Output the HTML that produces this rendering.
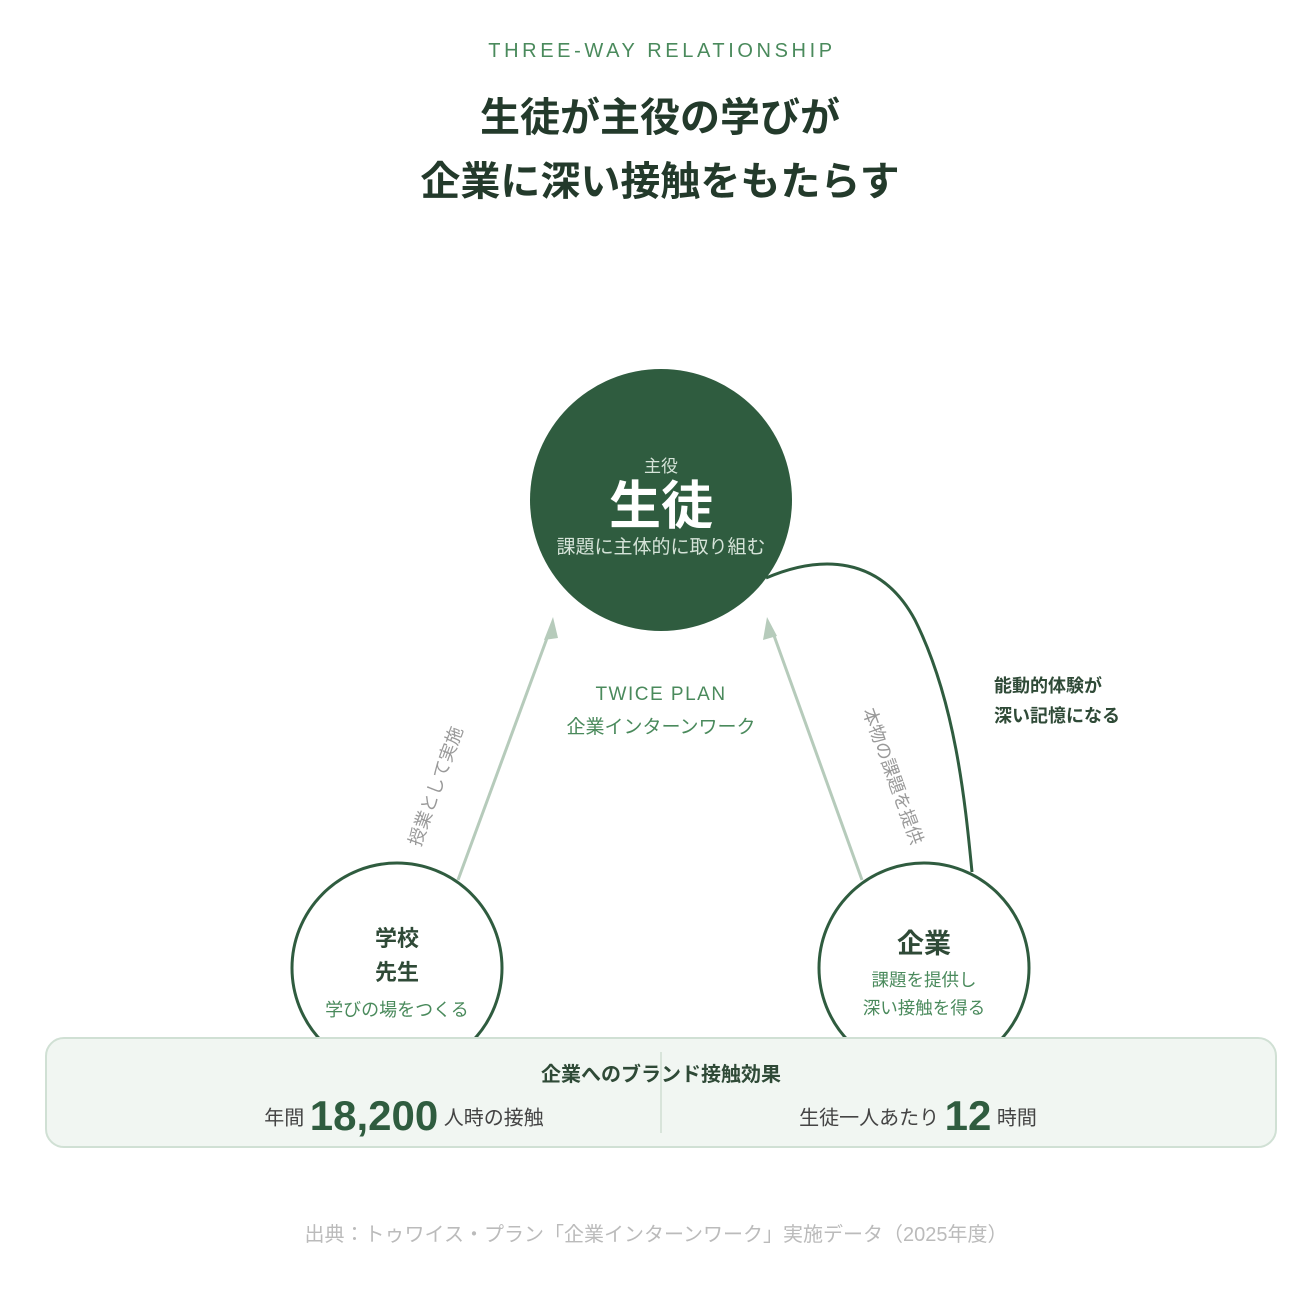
<!DOCTYPE html>
<html><head><meta charset="utf-8"><style>
html,body{margin:0;padding:0;background:#fff}
body{width:1306px;height:1308px;position:relative;overflow:hidden;font-family:"Liberation Sans","Noto Sans CJK JP",sans-serif}
.t{position:absolute;white-space:nowrap;text-align:center}
</style></head><body>
<div class="t" style="left:0;width:1324px;top:40px;font-size:20px;letter-spacing:3.6px;color:#4a8a5c">THREE-WAY RELATIONSHIP</div>
<div class="t" style="left:0;width:1320px;top:86px;font-size:40px;font-weight:bold;color:#233a2b;line-height:64px">生徒が主役の学びが<br>企業に深い接触をもたらす</div>

<svg width="1306" height="1308" style="position:absolute;left:0;top:0">
<circle cx="661" cy="500" r="131" fill="#2f5c3f"/>
<line x1="458" y1="880" x2="550" y2="630" stroke="#b6cbbb" stroke-width="3"/>
<polygon points="553,617 544,640 558,638" fill="#b6cbbb"/>
<line x1="862" y1="880" x2="772" y2="630" stroke="#b6cbbb" stroke-width="3"/>
<polygon points="767,617 763,640 777,636" fill="#b6cbbb"/>
<path d="M766,578 C820,555 880,555 915,620 C955,700 965,800 972,872" fill="none" stroke="#2f5c3f" stroke-width="3"/>
<circle cx="397" cy="968" r="105" fill="#fff" stroke="#2f5c3f" stroke-width="3"/>
<circle cx="924" cy="968" r="105" fill="#fff" stroke="#2f5c3f" stroke-width="3"/>
<rect x="46" y="1038" width="1230" height="109" rx="18" fill="#f1f6f2" stroke="#d0e0d4" stroke-width="2"/>
<line x1="661" y1="1052" x2="661" y2="1133" stroke="#cfded2" stroke-width="1.5"/>
</svg>

<div class="t" style="left:561px;width:200px;top:452px;font-size:17px;color:#d5e3d8">主役</div>
<div class="t" style="left:561px;width:200px;top:464px;font-size:52px;font-weight:bold;color:#fff">生徒</div>
<div class="t" style="left:521px;width:280px;top:532px;font-size:19px;color:#d5e3d8">課題に主体的に取り組む</div>

<div class="t" style="left:561px;width:200px;top:684px;font-size:19px;letter-spacing:1.5px;color:#4a8a5c">TWICE PLAN</div>
<div class="t" style="left:521px;width:280px;top:712px;font-size:19px;color:#4a8a5c">企業インターンワーク</div>

<div class="t" style="left:365px;width:140px;top:773px;font-size:18px;color:#999;transform:rotate(-70deg)">授業として実施</div>
<div class="t" style="left:823px;width:140px;top:761px;font-size:18px;color:#999;transform:rotate(70deg)">本物の課題を提供</div>

<div class="t" style="left:994px;top:671px;font-size:18px;font-weight:bold;color:#2f4a37;text-align:left;line-height:30px">能動的体験が<br>深い記憶になる</div>

<div class="t" style="left:297px;width:200px;top:922px;font-size:22px;font-weight:bold;color:#2f4a37;line-height:34px">学校<br>先生</div>
<div class="t" style="left:287px;width:220px;top:996px;font-size:18px;color:#4a8a5c">学びの場をつくる</div>
<div class="t" style="left:824px;width:200px;top:922px;font-size:27px;font-weight:bold;color:#2f4a37">企業</div>
<div class="t" style="left:814px;width:220px;top:966px;font-size:17.5px;color:#4a8a5c;line-height:28px">課題を提供し<br>深い接触を得る</div>

<div class="t" style="left:461px;width:400px;top:1058px;font-size:20px;font-weight:bold;color:#2f4a37">企業へのブランド接触効果</div>
<div class="t" style="left:204px;width:400px;top:1092px;font-size:20px;color:#444"><span style="vertical-align:middle">年間 </span><span style="font-size:42px;font-weight:bold;color:#2f5c3f;vertical-align:middle">18,200</span><span style="vertical-align:middle"> 人時の接触</span></div>
<div class="t" style="left:718px;width:400px;top:1092px;font-size:20px;color:#444"><span style="vertical-align:middle">生徒一人あたり </span><span style="font-size:42px;font-weight:bold;color:#2f5c3f;vertical-align:middle">12</span><span style="vertical-align:middle"> 時間</span></div>

<div class="t" style="left:0;width:1312px;top:1218px;font-size:20px;color:#bbb">出典：トゥワイス・プラン「企業インターンワーク」実施データ（2025年度）</div>
</body></html>
